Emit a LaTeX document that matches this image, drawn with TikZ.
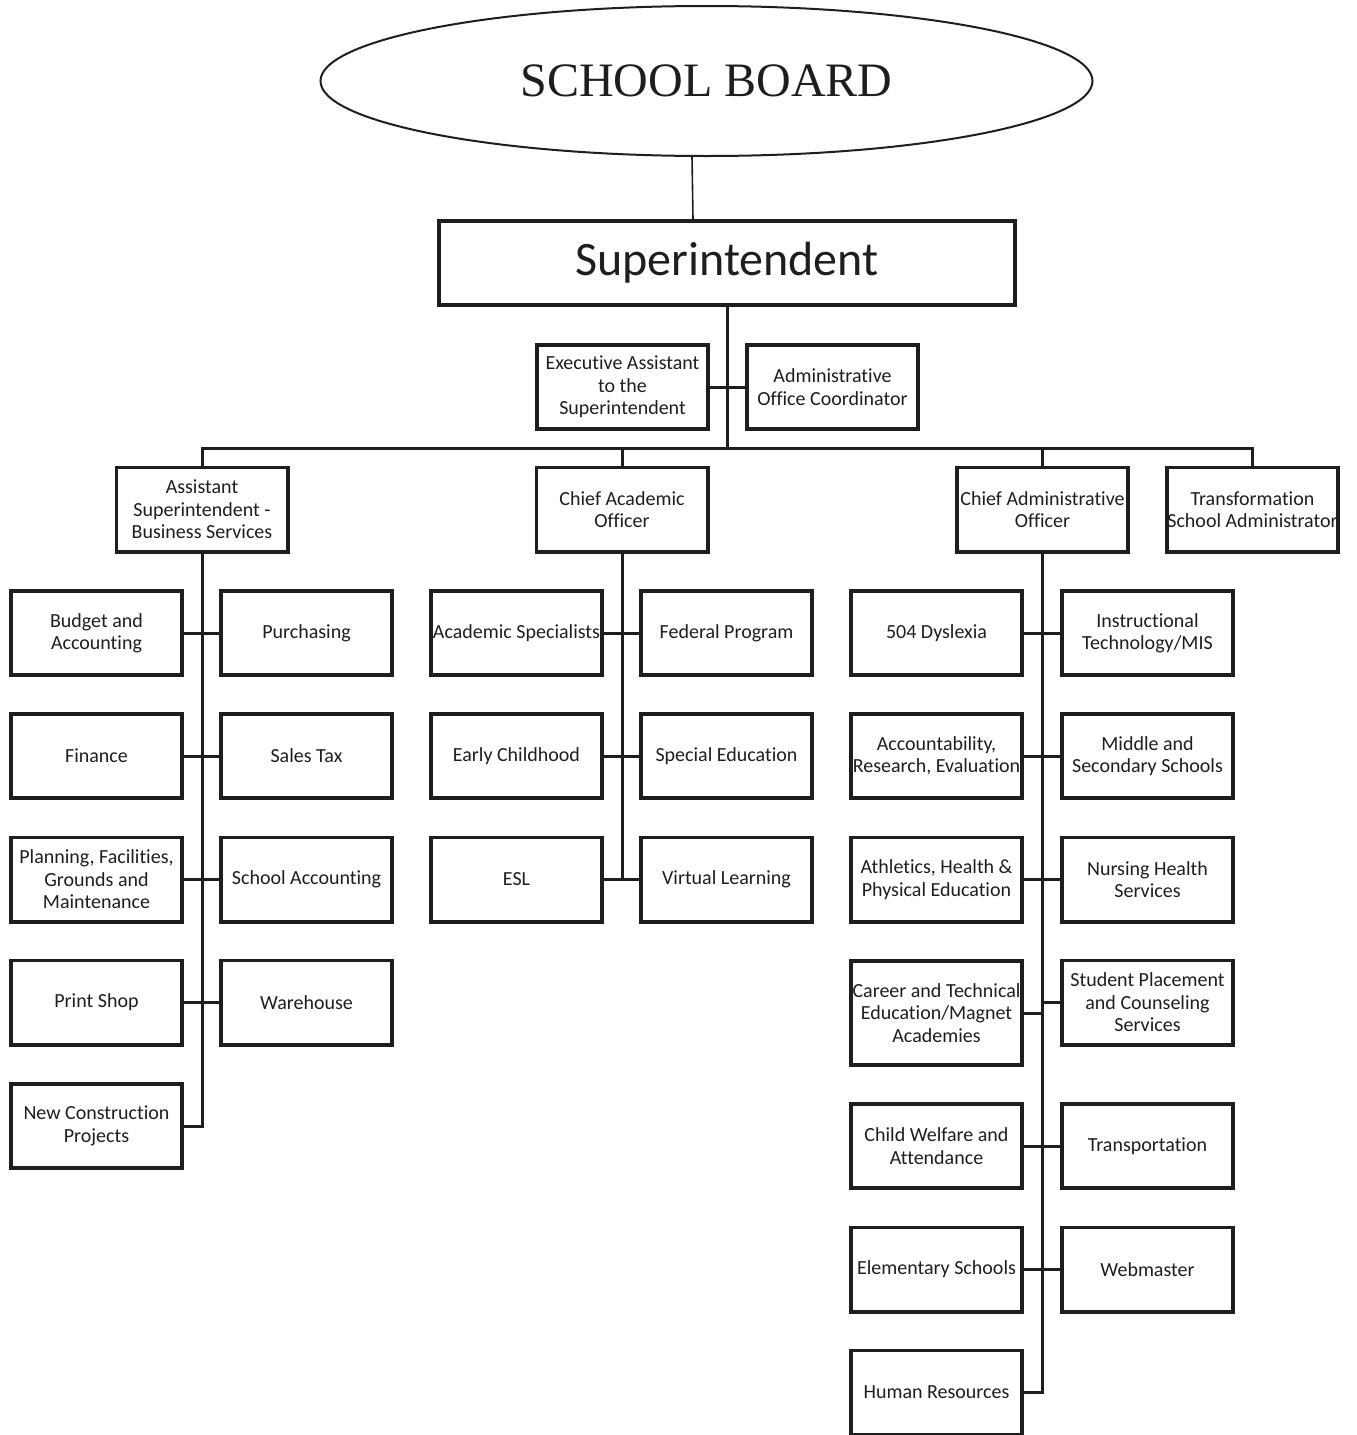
\documentclass[tikz,border=0pt]{standalone}
\usepackage{fontspec}
\setmainfont{Carlito}[RawFeature={-liga}]
\newfontfamily\timesf{Liberation Serif}
\usetikzlibrary{shapes.geometric,calc}
\definecolor{ink}{HTML}{1E1E1E}
\tikzset{
  box/.style={draw=ink, line width=1.9pt, minimum width=85.6pt, minimum height=42.1pt,
    inner sep=0pt, align=center, text=ink, font=\fontsize{10}{11.2}\selectfont},
  conn/.style={draw=ink, line width=1.5pt},
}
\begin{document}
\begin{tikzpicture}[x=0.5pt,y=-0.5pt]
\useasboundingbox (0,0) rectangle (1356,1435);
% top
\node[ellipse, draw=ink, line width=1pt, minimum width=386pt, minimum height=75pt, inner sep=0pt,
  font=\timesf\fontsize{24}{24}\selectfont, text=ink] (sb) at (706.5,81) {SCHOOL BOARD};
\node[box, minimum width=288.1pt, font=\fontsize{24}{24}\selectfont] (sup) at (727,263) {Superintendent};
\draw[draw=ink, line width=0.8pt] ($(sb.south)+(-14.5,0)$) -- ($(sup.north)+(-34,0)$);
\node[box] (ea) at (622.5,387) {Executive Assistant\\to the\\Superintendent};
\node[box] (aoc) at (832.5,387) {Administrative\\Office Coordinator};
% level 2
\node[box] (asbs) at (202,509.5) {Assistant\\Superintendent -\\Business Services};
\node[box] (cao) at (622,509.5) {Chief Academic\\Officer};
\node[box] (cad) at (1042.5,509.5) {Chief Administrative\\Officer};
\node[box] (tsa) at (1252.5,509.5) {Transformation\\School Administrator};
\coordinate (bus) at (727,448);
\draw[conn] (sup.south) -- (bus);
\draw[conn] (asbs.north) -- (asbs.north |- bus) -- (tsa.north |- bus) -- (tsa.north);
\draw[conn] (cao.north) -- (cao.north |- bus);
\draw[conn] (cad.north) -- (cad.north |- bus);
\draw[conn] (ea.east) -- (aoc.west);
% left column
\node[box] (ba) at (96.5,633) {Budget and\\Accounting};
\node[box] (pur) at (306.5,633) {Purchasing};
\node[box] (fin) at (96.5,756) {Finance};
\node[box] (stx) at (306.5,756) {Sales Tax};
\node[box] (pfg) at (96.5,879.5) {Planning, Facilities,\\Grounds and\\Maintenance};
\node[box] (sac) at (306.5,879.5) {School Accounting};
\node[box] (ps) at (96.5,1002.5) {Print Shop};
\node[box] (wh) at (306.5,1002.5) {Warehouse};
\node[box] (nc) at (96.5,1126) {New Construction\\Projects};
\draw[conn] (asbs.south) -- (asbs.south |- nc.east) -- (nc.east);
\draw[conn] (ba.east) -- (pur.west);
\draw[conn] (fin.east) -- (stx.west);
\draw[conn] (pfg.east) -- (sac.west);
\draw[conn] (ps.east) -- (wh.west);
% middle column
\node[box] (as) at (516.5,633) {Academic Specialists};
\node[box] (fp) at (726.5,633) {Federal Program};
\node[box] (ec) at (516.5,756) {Early Childhood};
\node[box] (se) at (726.5,756) {Special Education};
\node[box] (esl) at (516.5,879.5) {ESL};
\node[box] (vl) at (726.5,879.5) {Virtual Learning};
\draw[conn] (cao.south) -- (cao.south |- vl.west);
\draw[conn] (as.east) -- (fp.west);
\draw[conn] (ec.east) -- (se.west);
\draw[conn] (esl.east) -- (vl.west);
% right column
\node[box] (dys) at (936.5,633) {504 Dyslexia};
\node[box] (itm) at (1147.5,633) {Instructional\\Technology/MIS};
\node[box] (are) at (936.5,756) {Accountability,\\Research, Evaluation};
\node[box] (mss) at (1147.5,756) {Middle and\\Secondary Schools};
\node[box] (ahp) at (936.5,879.5) {Athletics, Health \&\\Physical Education};
\node[box] (nhs) at (1147.5,879.5) {Nursing Health\\Services};
\node[box, minimum height=52.1pt] (cte) at (936.5,1013) {Career and Technical\\Education/Magnet\\Academies};
\node[box] (spc) at (1147.5,1002.5) {Student Placement\\and Counseling\\Services};
\node[box] (cwa) at (936.5,1146) {Child Welfare and\\Attendance};
\node[box] (tra) at (1147.5,1146) {Transportation};
\node[box] (els) at (936.5,1269.5) {Elementary Schools};
\node[box] (web) at (1147.5,1269.5) {Webmaster};
\node[box] (hr) at (936.5,1392.5) {Human Resources};
\draw[conn] (cad.south) -- (cad.south |- hr.east) -- (hr.east);
\draw[conn] (dys.east) -- (itm.west);
\draw[conn] (are.east) -- (mss.west);
\draw[conn] (ahp.east) -- (nhs.west);
\draw[conn] (cte.east) -- (cte.east -| cad.south);
\draw[conn] (spc.west) -- (spc.west -| cad.south);
\draw[conn] (cwa.east) -- (tra.west);
\draw[conn] (els.east) -- (web.west);
\end{tikzpicture}
\end{document}
